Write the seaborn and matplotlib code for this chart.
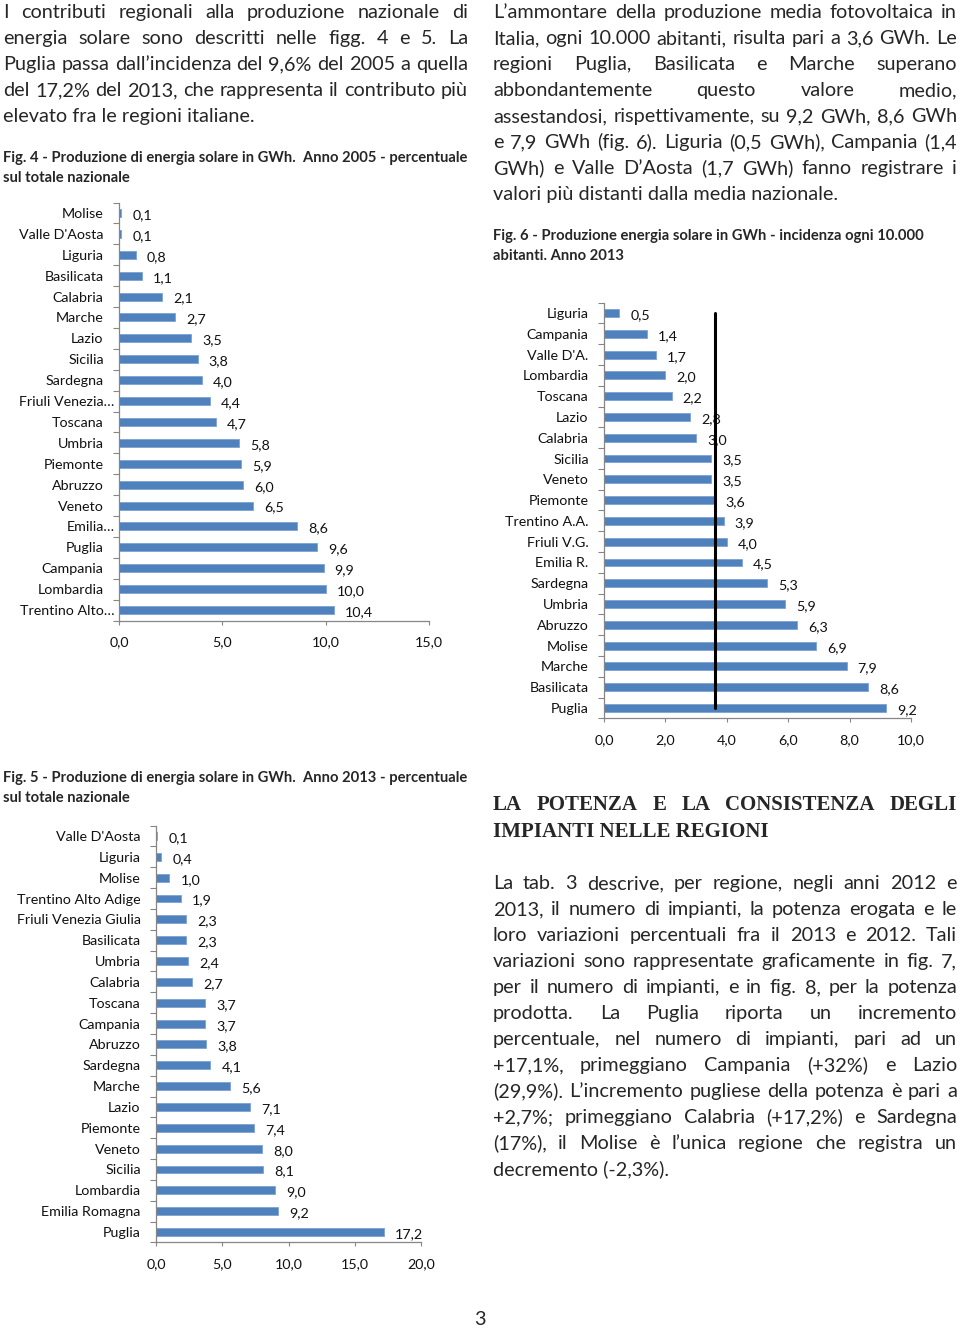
import numpy as np
import pandas as pd
import matplotlib
matplotlib.use("Agg")
import matplotlib.pyplot as plt
import matplotlib.transforms as mtransforms
import seaborn as sns
from matplotlib.font_manager import FontProperties
from matplotlib.ticker import FuncFormatter, FixedLocator

W, H = 960, 1328
BLU = "#4f81bd"
GRIGIO = "#868686"

# Fig. 4 - anno 2005, percentuale sul totale nazionale
regioni_2005 = ["Molise", "Valle D'Aosta", "Liguria", "Basilicata", "Calabria", "Marche",
                "Lazio", "Sicilia", "Sardegna", "Friuli Venezia…", "Toscana", "Umbria",
                "Piemonte", "Abruzzo", "Veneto", "Emilia…", "Puglia", "Campania",
                "Lombardia", "Trentino Alto…"]
quote_2005 = [0.1, 0.1, 0.8, 1.1, 2.1, 2.7, 3.5, 3.8, 4.0, 4.4, 4.7, 5.8,
              5.9, 6.0, 6.5, 8.6, 9.6, 9.9, 10.0, 10.4]

# Fig. 5 - anno 2013, percentuale sul totale nazionale
regioni_2013 = ["Valle D'Aosta", "Liguria", "Molise", "Trentino Alto Adige",
                "Friuli Venezia Giulia", "Basilicata", "Umbria", "Calabria", "Toscana",
                "Campania", "Abruzzo", "Sardegna", "Marche", "Lazio", "Piemonte",
                "Veneto", "Sicilia", "Lombardia", "Emilia Romagna", "Puglia"]
quote_2013 = [0.1, 0.4, 1.0, 1.9, 2.3, 2.3, 2.4, 2.7, 3.7, 3.7, 3.8, 4.1,
              5.6, 7.1, 7.4, 8.0, 8.1, 9.0, 9.2, 17.2]

# Fig. 6 - GWh ogni 10.000 abitanti, anno 2013
regioni_abitanti = ["Liguria", "Campania", "Valle D'A.", "Lombardia", "Toscana", "Lazio",
                    "Calabria", "Sicilia", "Veneto", "Piemonte", "Trentino A.A.",
                    "Friuli V.G.", "Emilia R.", "Sardegna", "Umbria", "Abruzzo",
                    "Molise", "Marche", "Basilicata", "Puglia"]
gwh_abitanti = [0.5, 1.4, 1.7, 2.0, 2.2, 2.8, 3.0, 3.5, 3.5, 3.6, 3.9, 4.0,
                4.5, 5.3, 5.9, 6.3, 6.9, 7.9, 8.6, 9.2]
media_nazionale = 3.6

testo_sx = ["I contributi regionali alla produzione nazionale di",
            "energia solare sono descritti nelle figg. 4 e 5. La",
            "Puglia passa dall’incidenza del 9,6% del 2005 a quella",
            "del 17,2% del 2013, che rappresenta il contributo più",
            "elevato fra le regioni italiane."]
testo_dx = ["L’ammontare della produzione media fotovoltaica in",
            "Italia, ogni 10.000 abitanti, risulta pari a 3,6 GWh. Le",
            "regioni Puglia, Basilicata e Marche superano",
            "abbondantemente questo valore medio,",
            "assestandosi, rispettivamente, su 9,2 GWh, 8,6 GWh",
            "e 7,9 GWh (fig. 6). Liguria (0,5 GWh), Campania (1,4",
            "GWh) e Valle D’Aosta (1,7 GWh) fanno registrare i",
            "valori più distanti dalla media nazionale."]
titolo_sez = ["LA POTENZA E LA CONSISTENZA DEGLI", "IMPIANTI NELLE REGIONI"]
testo_sez = ["La tab. 3 descrive, per regione, negli anni 2012 e",
             "2013, il numero di impianti, la potenza erogata e le",
             "loro variazioni percentuali fra il 2013 e 2012. Tali",
             "variazioni sono rappresentate graficamente in fig. 7,",
             "per il numero di impianti, e in fig. 8, per la potenza",
             "prodotta. La Puglia riporta un incremento",
             "percentuale, nel numero di impianti, pari ad un",
             "+17,1%, primeggiano Campania (+32%) e Lazio",
             "(29,9%). L’incremento pugliese della potenza è pari a",
             "+2,7%; primeggiano Calabria (+17,2%) e Sardegna",
             "(17%), il Molise è l’unica regione che registra un",
             "decremento (-2,3%)."]
didascalia_4 = ["Fig. 4 - Produzione di energia solare in GWh.  Anno 2005 - percentuale",
                "sul totale nazionale"]
didascalia_5 = ["Fig. 5 - Produzione di energia solare in GWh.  Anno 2013 - percentuale",
                "sul totale nazionale"]
didascalia_6 = ["Fig. 6 - Produzione energia solare in GWh - incidenza ogni 10.000",
                "abitanti. Anno 2013"]

sns.set_theme(style="white")
plt.rcParams["font.family"] = ["Lato", "DejaVu Sans"]

corpo = FontProperties(family="Lato", size=14.3)
grassetto = FontProperties(family="Lato", weight="bold", size=10.65)
serif = FontProperties(family="Liberation Serif", weight="bold", size=15)
ETICHETTA = 10.3

fig = plt.figure(figsize=(W / 100, H / 100), dpi=100)
fig.patch.set_facecolor("white")
renderer = fig.canvas.get_renderer()


def riga(testo, x0, x1, base, prop, giustifica):
    if not giustifica:
        fig.text(x0 / W, 1 - base / H, testo, fontproperties=prop, va="baseline", ha="left")
        return
    parole = testo.split()
    larg = [renderer.get_text_width_height_descent(p, prop, ismath=False)[0] for p in parole]
    gap = (x1 - x0 - sum(larg)) / (len(parole) - 1)
    x = x0
    for p, l in zip(parole, larg):
        fig.text(x / W, 1 - base / H, p, fontproperties=prop, va="baseline", ha="left")
        x += l + gap


def paragrafo(righe, x0, x1, base, passo, prop, giustifica=True):
    for i, t in enumerate(righe):
        ultima = i == len(righe) - 1
        riga(t, x0, x1, base + i * passo, prop, giustifica and not ultima)


def virgola(v, pos=None):
    return f"{v:.1f}".replace(".", ",")


def grafico(box, regioni, valori, xmax, passo_x):
    x0, y0, x1, y1 = box
    ax = fig.add_axes([x0 / W, 1 - y1 / H, (x1 - x0) / W, (y1 - y0) / H])
    df = pd.DataFrame({"regione": regioni, "valore": valori})
    sns.barplot(data=df, x="valore", y="regione", orient="h", color=BLU, saturation=1,
                width=0.38, edgecolor="#7ba3d6", linewidth=0.6, ax=ax)
    n = len(regioni)
    ax.set_xlim(0, xmax)
    ax.set_ylim(n - 0.5, -0.5)
    ax.set_xlabel("")
    ax.set_ylabel("")
    ax.set_xticks(np.arange(0, xmax + 0.01, passo_x))
    ax.xaxis.set_major_formatter(FuncFormatter(virgola))
    ax.yaxis.set_minor_locator(FixedLocator(np.arange(-0.5, n, 1)))
    ax.tick_params(axis="y", which="major", length=0, pad=11, labelsize=ETICHETTA, labelcolor="#111111")
    ax.tick_params(axis="y", which="minor", length=4, width=0.8, color=GRIGIO, direction="out", left=True)
    ax.tick_params(axis="x", which="major", length=3, width=0.8, color=GRIGIO, direction="out",
                   bottom=True, pad=8, labelsize=ETICHETTA, labelcolor="#111111")
    for lato in ["top", "right"]:
        ax.spines[lato].set_visible(False)
    for lato in ["left", "bottom"]:
        ax.spines[lato].set_color(GRIGIO)
        ax.spines[lato].set_linewidth(0.9)
    ax.set_facecolor("white")
    # le etichette troncate (come in Excel) sporgono un po' verso l'asse
    sposta = mtransforms.ScaledTranslation(11 / 100, 0, fig.dpi_scale_trans)
    for lbl in ax.get_yticklabels():
        if lbl.get_text().endswith("…"):
            lbl.set_transform(lbl.get_transform() + sposta)
    for i, v in enumerate(valori):
        ax.annotate(virgola(v), (v, i), xytext=(8, -1.5), textcoords="offset points",
                    va="center", ha="left", fontsize=ETICHETTA, color="#111111")
    return ax


# colonna sinistra
paragrafo(testo_sx, 3, 468, 18, 26, corpo)
paragrafo(didascalia_4, 3, 468, 162, 19.5, grassetto, giustifica=False)
grafico((119, 202.5, 429, 620.5), regioni_2005, quote_2005, 15, 5)

paragrafo(didascalia_5, 3, 468, 782, 19.5, grassetto, giustifica=False)
grafico((156, 825.6, 421, 1242.4), regioni_2013, quote_2013, 20, 5)

# colonna destra
paragrafo(testo_dx, 493, 957, 18, 26, corpo)
paragrafo(didascalia_6, 493, 957, 240, 19.5, grassetto, giustifica=False)
ax6 = grafico((604, 302.6, 911, 718.4), regioni_abitanti, gwh_abitanti, 10, 2)
ax6.plot([media_nazionale, media_nazionale], [0, len(regioni_abitanti) - 1],
         color="black", linewidth=2.2, zorder=5)

paragrafo(titolo_sez, 493, 957, 810, 27, serif)
paragrafo(testo_sez, 493, 957, 889, 26, corpo)

fig.text(480 / W, 1 - 1325 / H, "3", fontproperties=corpo, va="baseline", ha="center")

fig.savefig("out.png", dpi=100, facecolor="white")
